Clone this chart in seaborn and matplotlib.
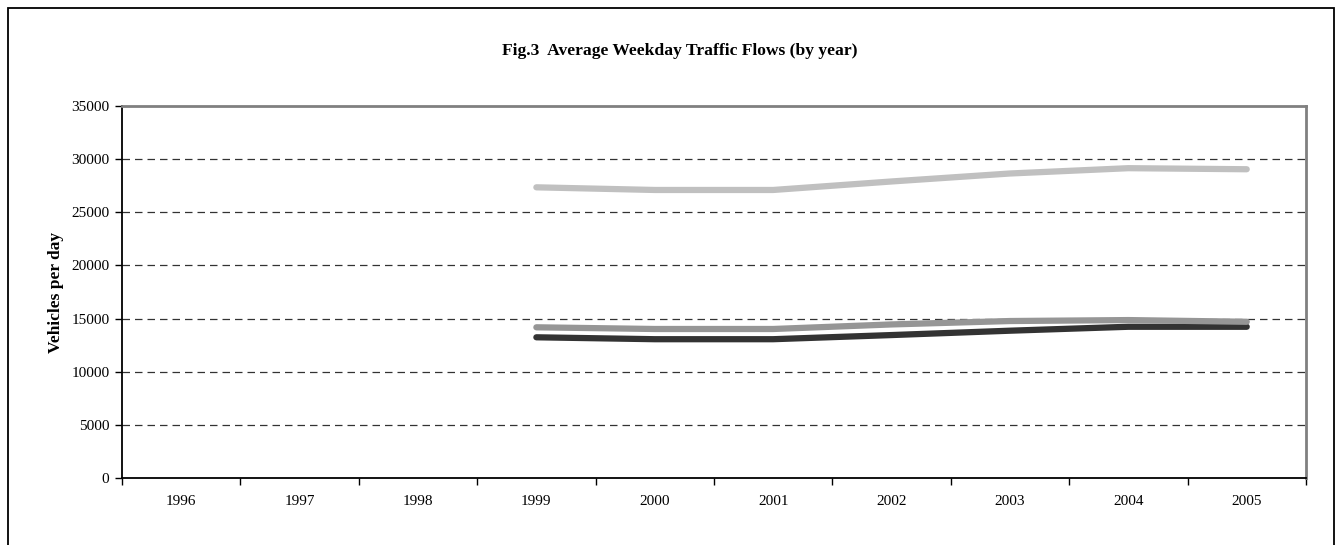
import numpy as np
import pandas as pd
import matplotlib
matplotlib.use("Agg")
import matplotlib.pyplot as plt
import seaborn as sns
from matplotlib.patches import Rectangle

years = ["1996", "1997", "1998", "1999", "2000", "2001", "2002", "2003", "2004", "2005"]
nan = np.nan
flow_light = [nan, nan, nan, 27350, 27100, 27100, 27900, 28650, 29150, 29050]
flow_mid = [nan, nan, nan, 14180, 14020, 14020, 14450, 14770, 14860, 14700]
flow_dark = [nan, nan, nan, 13240, 13060, 13060, 13450, 13860, 14230, 14230]

sns.set_style("white")
plt.rcParams["font.family"] = ["Liberation Serif", "DejaVu Serif"]
plt.rcParams["text.color"] = "black"
plt.rcParams["axes.labelcolor"] = "black"
plt.rcParams["xtick.color"] = "black"
plt.rcParams["ytick.color"] = "black"

fig = plt.figure(figsize=(13.39, 5.45), dpi=100)
ax = fig.add_axes([0.0911, 0.1229, 0.8842, 0.6826])

pos = np.arange(len(years))
df = pd.DataFrame({"pos": pos, "light": flow_light, "mid": flow_mid, "dark": flow_dark})

# dark drawn first so the mid grey sits on top where they touch
sns.lineplot(data=df, x="pos", y="dark", color="#333333", linewidth=4.5,
             solid_capstyle="round", ax=ax)
sns.lineplot(data=df, x="pos", y="mid", color="#969696", linewidth=4.5,
             solid_capstyle="round", ax=ax)
sns.lineplot(data=df, x="pos", y="light", color="#C0C0C0", linewidth=4.5,
             solid_capstyle="round", ax=ax)

ax.set_xlim(-0.5, len(years) - 0.5)
ax.set_ylim(0, 35000)
ax.set_yticks(np.arange(0, 35001, 5000))
ax.set_yticklabels([str(v) for v in range(0, 35001, 5000)], fontsize=11)

# category labels centred, tick marks between categories (Excel style)
ax.set_xticks(np.arange(-0.5, len(years), 1.0))
ax.set_xticklabels([])
ax.set_xticks(pos, minor=True)
ax.set_xticklabels(years, minor=True, fontsize=11)
ax.tick_params(axis="x", which="major", bottom=True, direction="out", length=5,
               width=1, color="black")
ax.tick_params(axis="x", which="minor", bottom=True, length=0, pad=12)
ax.tick_params(axis="y", left=True, direction="out", length=5, width=1,
               color="black", pad=4)

for y in range(5000, 35000, 5000):
    ax.axhline(y, color="#333333", linestyle=(0, (6, 4)), linewidth=0.9, zorder=0)

ax.spines["left"].set_color("black")
ax.spines["bottom"].set_color("black")
ax.spines["left"].set_linewidth(1.3)
ax.spines["bottom"].set_linewidth(1.3)
ax.spines["top"].set_color("#808080")
ax.spines["right"].set_color("#808080")
ax.spines["top"].set_linewidth(2)
ax.spines["right"].set_linewidth(2)

ax.set_xlabel("")
ax.set_ylabel("Vehicles per day", fontsize=12.5, fontweight="bold", labelpad=5)

fig.text(0.508, 0.906, "Fig.3  Average Weekday Traffic Flows (by year)",
         ha="center", va="center", fontsize=12.6, fontweight="bold")

# outer chart-area border
fig.patches.append(Rectangle((8 / 1339, -0.05), (1334 - 8) / 1339, 1.05 - 8 / 545,
                             transform=fig.transFigure, fill=False,
                             edgecolor="black", linewidth=1.3))

fig.savefig("out.png", dpi=100)
